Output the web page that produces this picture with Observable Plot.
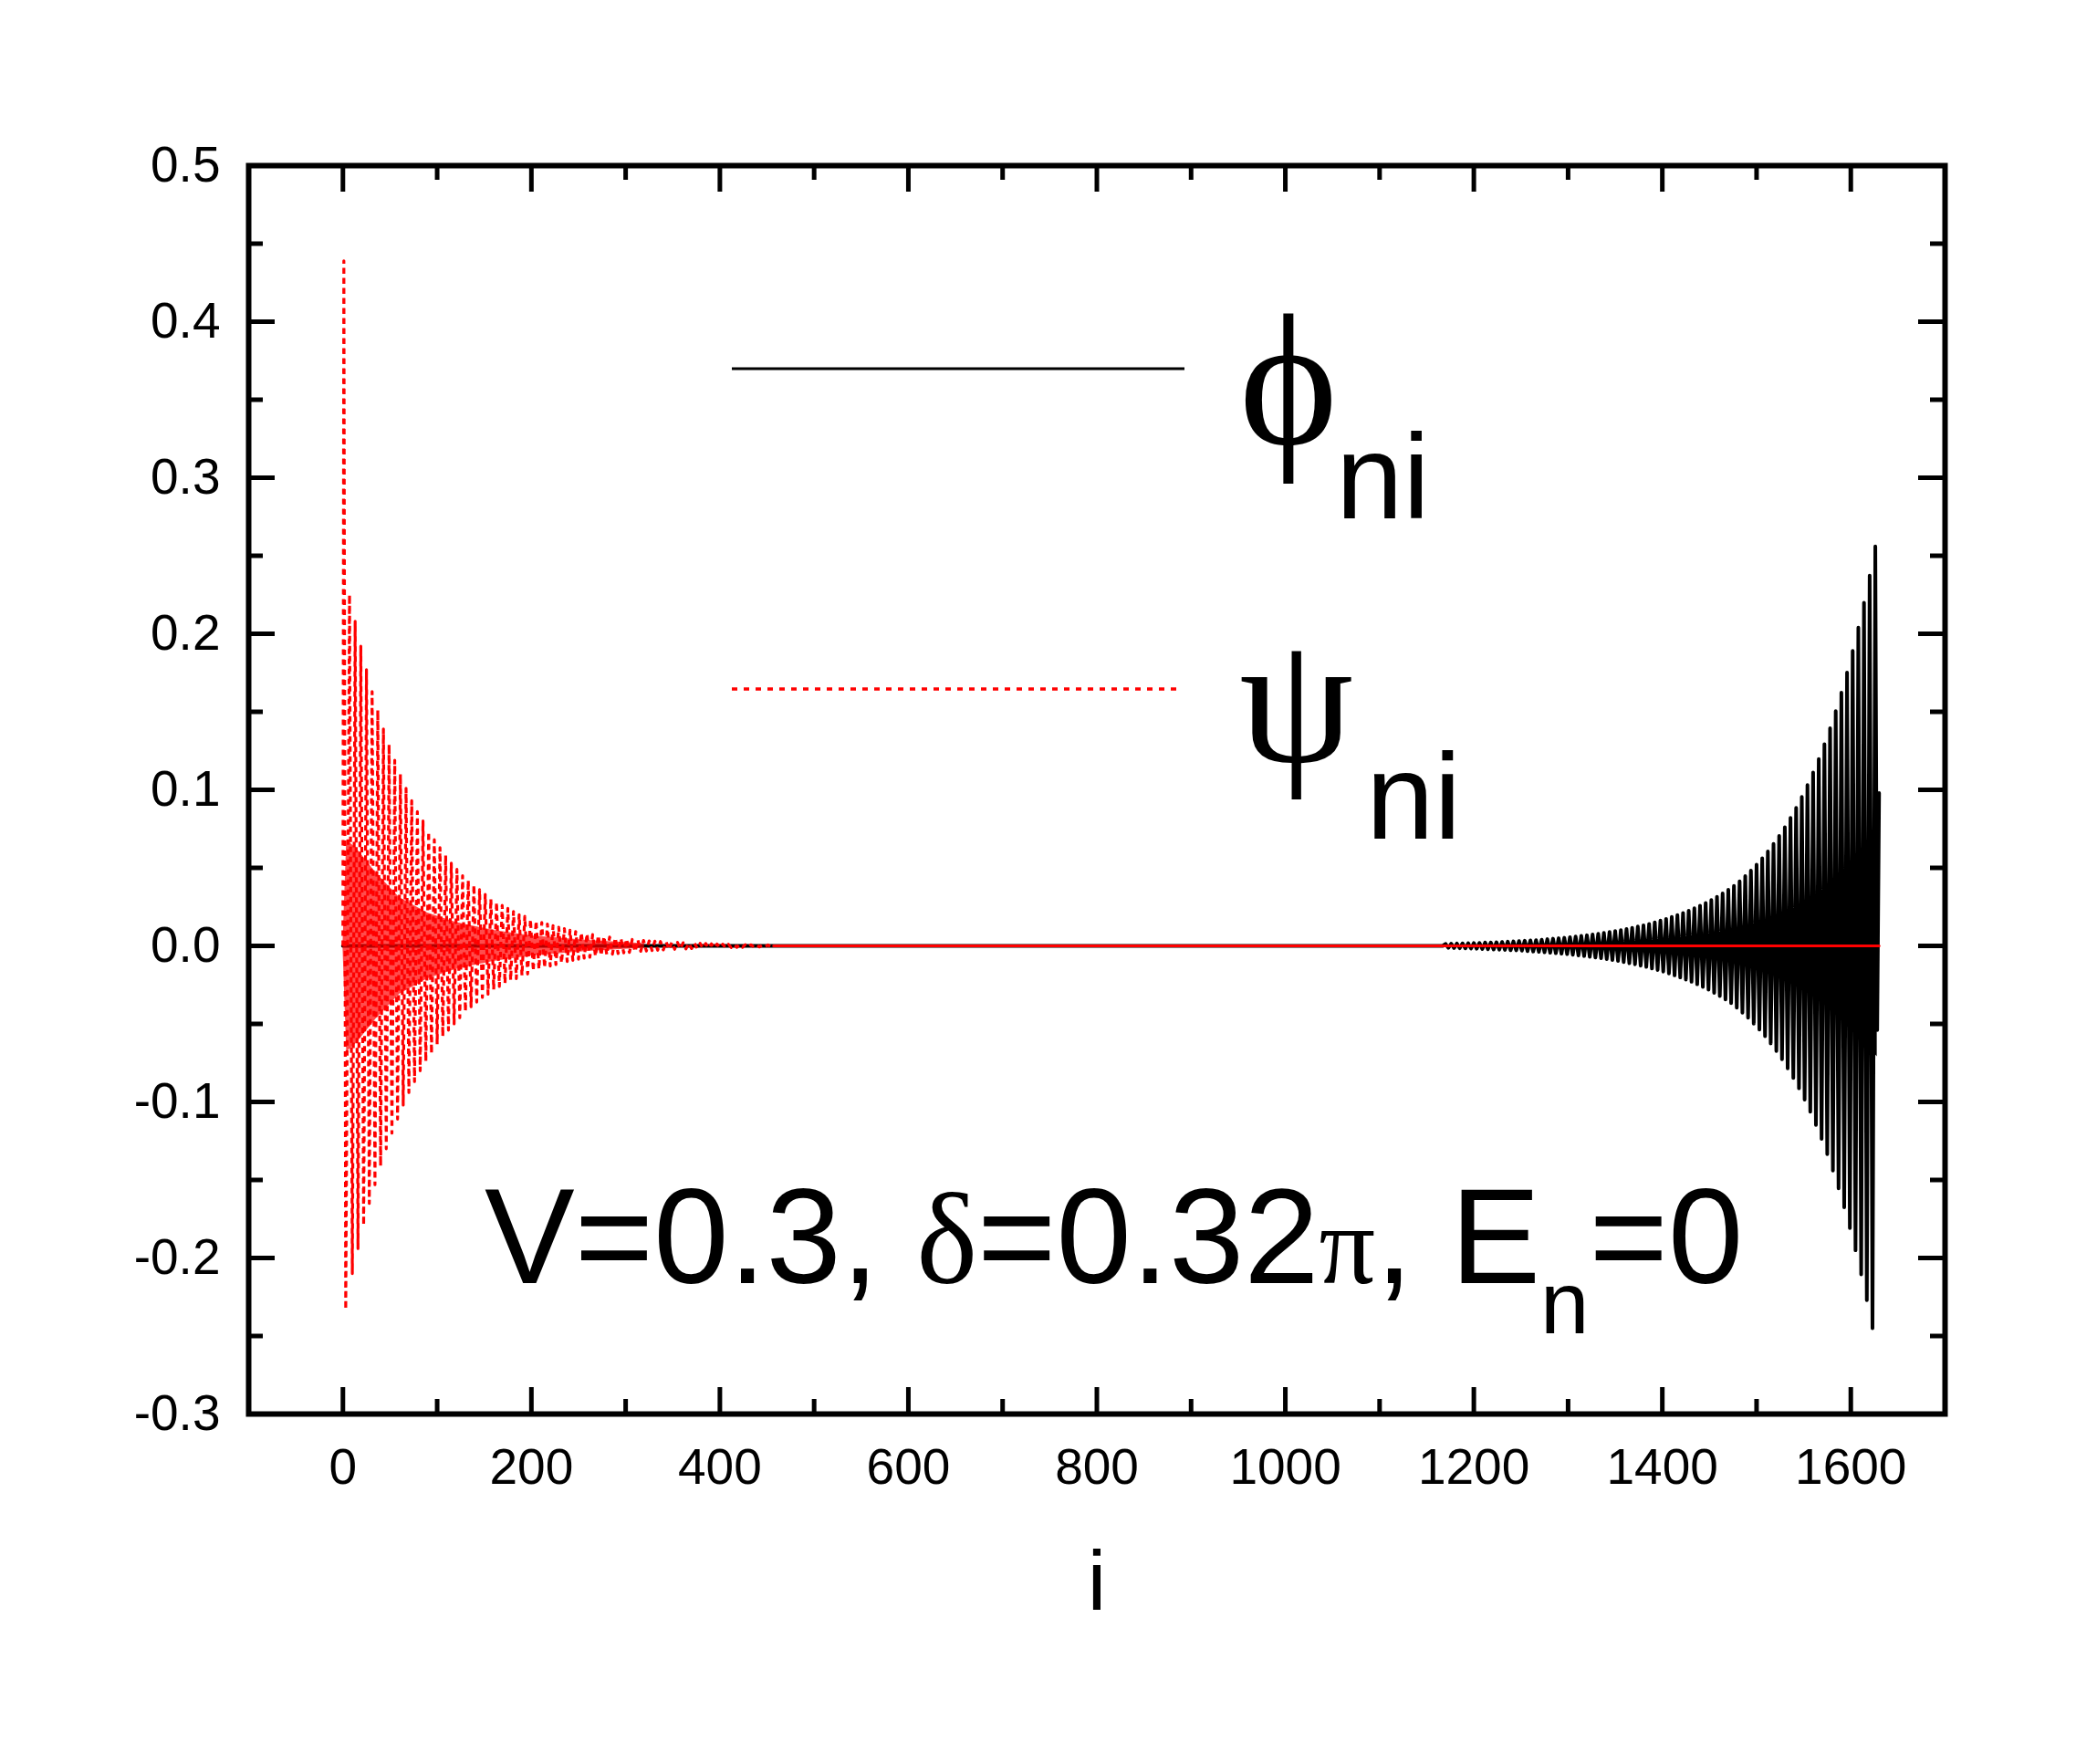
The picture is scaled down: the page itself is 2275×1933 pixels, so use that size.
<!DOCTYPE html>
<html>
<head>
<meta charset="utf-8">
<script src="https://cdn.jsdelivr.net/npm/d3@7"></script>
<script src="https://cdn.jsdelivr.net/npm/@observablehq/plot@0.6"></script>
<style>
html, body { margin: 0; padding: 0; background: #fff; }
#chart svg { display: block; }
</style>
</head>
<body>
<div id="chart"></div>
<script>
// ---------------- data ----------------
const xMajor = [0, 200, 400, 600, 800, 1000, 1200, 1400, 1600];
const xMinor = [100, 300, 500, 700, 900, 1100, 1300, 1500];
const yMajor = [-0.3, -0.2, -0.1, 0.0, 0.1, 0.2, 0.3, 0.4, 0.5];
const yMinor = [-0.25, -0.15, -0.05, 0.05, 0.15, 0.25, 0.35, 0.45];

// phi_ni (black, solid): flat start, then positive peaks and negative troughs
const phiFlat = [[0, 0], [1167, 0]];
const phiPeaks = [
 [1170,0.0013],[1176,0.0014],[1182,0.0015],[1188,0.0016],[1194,0.0017],[1200,0.0018],[1206,0.0019],[1212,0.0021],
 [1218,0.0022],[1224,0.0023],[1230,0.0025],[1236,0.0027],[1242,0.0029],[1248,0.0031],[1254,0.0033],[1260,0.0035],
 [1266,0.0037],[1272,0.0040],[1278,0.0043],[1284,0.0046],[1290,0.0049],[1296,0.0052],[1302,0.0056],[1308,0.0060],
 [1314,0.0064],[1320,0.0068],[1326,0.0073],[1332,0.0078],[1338,0.0083],[1344,0.0089],[1350,0.0095],[1356,0.0101],
 [1362,0.0108],[1368,0.0116],[1374,0.0124],[1380,0.0132],[1386,0.0141],[1392,0.0151],[1398,0.0162],[1404,0.0173],
 [1410,0.0185],[1416,0.0197],[1422,0.0211],[1428,0.0225],[1434,0.0241],[1440,0.0258],[1446,0.0275],[1452,0.0294],
 [1458,0.0315],[1464,0.0336],[1470,0.0359],[1476,0.0384],[1482,0.0414],[1488,0.0447],[1494,0.0482],[1500,0.0520],
 [1506,0.0561],[1512,0.0605],[1518,0.0653],[1524,0.0704],[1530,0.0760],[1536,0.0820],[1542,0.0885],[1548,0.0954],
 [1554,0.1030],[1560,0.1111],[1566,0.1198],[1572,0.1293],[1578,0.1395],[1584,0.1505],[1590,0.1623],[1596,0.1751],
 [1602,0.1890],[1608,0.2039],[1614,0.2199],[1620,0.2373],[1626,0.2560]
];
const phiTroughs = [
 [1173,-0.0013],[1179,-0.0014],[1185,-0.0015],[1191,-0.0016],[1197,-0.0017],[1203,-0.0018],[1209,-0.0020],[1215,-0.0021],
 [1221,-0.0023],[1227,-0.0024],[1233,-0.0026],[1239,-0.0028],[1245,-0.0029],[1251,-0.0031],[1257,-0.0034],[1263,-0.0036],
 [1269,-0.0038],[1275,-0.0041],[1281,-0.0044],[1287,-0.0047],[1293,-0.0050],[1299,-0.0053],[1305,-0.0057],[1311,-0.0061],
 [1317,-0.0065],[1323,-0.0070],[1329,-0.0074],[1335,-0.0079],[1341,-0.0085],[1347,-0.0091],[1353,-0.0097],[1359,-0.0104],
 [1365,-0.0111],[1371,-0.0118],[1377,-0.0127],[1383,-0.0135],[1389,-0.0145],[1395,-0.0155],[1401,-0.0165],[1407,-0.0177],
 [1413,-0.0189],[1419,-0.0202],[1425,-0.0216],[1431,-0.0230],[1437,-0.0246],[1443,-0.0263],[1449,-0.0281],[1455,-0.0301],
 [1461,-0.0321],[1467,-0.0343],[1473,-0.0367],[1479,-0.0396],[1485,-0.0428],[1491,-0.0461],[1497,-0.0498],[1503,-0.0537],
 [1509,-0.0579],[1515,-0.0625],[1521,-0.0674],[1527,-0.0727],[1533,-0.0785],[1539,-0.0847],[1545,-0.0913],[1551,-0.0985],
 [1557,-0.1063],[1563,-0.1147],[1569,-0.1237],[1575,-0.1335],[1581,-0.1440],[1587,-0.1554],[1593,-0.1676],[1599,-0.1808],
 [1605,-0.1951],[1611,-0.2105],[1617,-0.2271],[1623,-0.2450]
];
const phiEnd = [[1628, -0.054], [1630, 0.098]];
// dense inner band of phi (upper / lower edge)
const phiBandI  = [1250, 1350, 1420, 1470, 1510, 1550, 1580, 1600, 1615, 1628];
const phiBandHi = [0.0004, 0.0015, 0.004, 0.007, 0.014, 0.022, 0.035, 0.047, 0.058, 0.064];
const phiBandLo = [-0.0004, -0.0015, -0.004, -0.007, -0.014, -0.022, -0.034, -0.048, -0.062, -0.071];

// psi_ni (red, dotted): peaks and troughs decaying from the left edge
const psiStart = [[0, 0]];
const psiPeaks = [
 [1,0.439],[7,0.225],[13,0.208],[19,0.192],[25,0.177],[31,0.163],[37,0.151],[43,0.139],[49,0.129],[55,0.119],
 [61,0.110],[67,0.101],[73,0.093],[79,0.086],[85,0.080],[91,0.073],[97,0.068],[103,0.063],[109,0.058],[115,0.053],
 [121,0.049],[127,0.045],[133,0.042],[139,0.039],[145,0.036],[151,0.033],[157,0.030],[163,0.028],[169,0.026],[175,0.024],
 [181,0.022],[187,0.020],[193,0.019],[199,0.017],[205,0.016],[211,0.015],[217,0.014],[223,0.013],[229,0.012],[235,0.011],
 [241,0.010],[247,0.0092],[253,0.0085],[259,0.0078],[265,0.0072],[271,0.0067],[277,0.0061],[283,0.0057],[289,0.0052],
 [295,0.0048],[301,0.0045],[307,0.0041],[313,0.0038],[319,0.0035],[325,0.0032],[331,0.0030],[337,0.0028],[343,0.0025],
 [349,0.0023],[355,0.0022],[361,0.0020],[367,0.0018],[373,0.0017],[379,0.0016],[385,0.0015],[391,0.0013],[397,0.0012],
 [403,0.0011],[409,0.0010],[415,0.0009],[421,0.0009],[427,0.0008],[433,0.0007],[439,0.0007],[445,0.0006],[451,0.0006]
];
const psiTroughs = [
 [3,-0.233],[10,-0.210],[16,-0.194],[22,-0.179],[28,-0.165],[34,-0.153],[40,-0.141],[46,-0.130],[52,-0.120],[58,-0.111],
 [64,-0.102],[70,-0.094],[76,-0.087],[82,-0.080],[88,-0.074],[94,-0.069],[100,-0.063],[106,-0.058],[112,-0.054],[118,-0.050],
 [124,-0.046],[130,-0.042],[136,-0.039],[142,-0.036],[148,-0.033],[154,-0.031],[160,-0.028],[166,-0.026],[172,-0.024],[178,-0.022],
 [184,-0.021],[190,-0.019],[196,-0.018],[202,-0.016],[208,-0.015],[214,-0.014],[220,-0.013],[226,-0.012],[232,-0.011],[238,-0.010],
 [244,-0.0093],[250,-0.0085],[256,-0.0079],[262,-0.0073],[268,-0.0067],[274,-0.0062],[280,-0.0057],[286,-0.0053],[292,-0.0049],
 [298,-0.0045],[304,-0.0042],[310,-0.0038],[316,-0.0035],[322,-0.0033],[328,-0.0030],[334,-0.0028],[340,-0.0026],[346,-0.0024],
 [352,-0.0022],[358,-0.0020],[364,-0.0019],[370,-0.0017],[376,-0.0016],[382,-0.0015],[388,-0.0014],[394,-0.0013],[400,-0.0012],
 [406,-0.0011],[412,-0.0010],[418,-0.0009],[424,-0.0009],[430,-0.0008],[436,-0.0007],[442,-0.0007],[448,-0.0006],[454,-0.0006]
];
const psiTail = [[457, 0], [1630, 0]];
// dense inner band of psi
const psiBandI  = [0, 4, 15, 35, 60, 90, 120, 160, 200, 260, 320];
const psiBandHi = [0, 0.068, 0.062, 0.047, 0.031, 0.021, 0.015, 0.010, 0.0065, 0.0035, 0.0015];
const psiBandLo = [0, -0.068, -0.062, -0.047, -0.031, -0.021, -0.015, -0.010, -0.0065, -0.0035, -0.0015];

// ---------------- layout ----------------
const W = 2275, H = 1933;
const mL = 272, mR = 144, mT = 181, mB = 384;
const xDomain = [-100, 1700], yDomain = [-0.3, 0.5];
const sans = "'Liberation Sans', Arial, Helvetica, sans-serif";
const serif = "'Liberation Serif', 'DejaVu Serif', 'Times New Roman', serif";

const toRows = (pairs) => pairs.map(([i, v]) => ({i, v}));
const byI = (a, b) => a.i - b.i;
const phi = toRows([...phiFlat, ...phiPeaks, ...phiTroughs, ...phiEnd]).sort(byI);
const psi = toRows([...psiStart, ...psiPeaks, ...psiTroughs]).sort(byI);
const psiFlat = toRows(psiTail);
const phiBand = phiBandI.map((i, k) => ({i, hi: phiBandHi[k], lo: phiBandLo[k]}));
const psiBand = psiBandI.map((i, k) => ({i, hi: psiBandHi[k], lo: psiBandLo[k]}));

// tick lengths in pixels converted to data units
const ux = (xDomain[1] - xDomain[0]) / (W - mL - mR);
const uy = (yDomain[1] - yDomain[0]) / (H - mT - mB);
const majLen = 29, minLen = 16, tickW = 5;

function xTicks(values, len) {
  return [
    Plot.ruleX(values, {x: d => d, y1: () => yDomain[0], y2: () => yDomain[0] + len * uy, strokeWidth: tickW}),
    Plot.ruleX(values, {x: d => d, y1: () => yDomain[1], y2: () => yDomain[1] - len * uy, strokeWidth: tickW})
  ];
}
function yTicks(values, len) {
  return [
    Plot.ruleY(values, {y: d => d, x1: () => xDomain[0], x2: () => xDomain[0] + len * ux, strokeWidth: tickW}),
    Plot.ruleY(values, {y: d => d, x1: () => xDomain[1], x2: () => xDomain[1] - len * ux, strokeWidth: tickW})
  ];
}

const plot = Plot.plot({
  width: W,
  height: H,
  marginLeft: mL,
  marginRight: mR,
  marginTop: mT,
  marginBottom: mB,
  x: {domain: xDomain},
  y: {domain: yDomain},
  style: {fontFamily: sans, background: "white", color: "black"},
  marks: [
    Plot.areaY(phiBand, {x: "i", y1: "lo", y2: "hi", fill: "black"}),
    Plot.line(phi, {x: "i", y: "v", stroke: "black", strokeWidth: 4, strokeLinejoin: "round"}),
    Plot.areaY(psiBand, {x: "i", y1: "lo", y2: "hi", fill: "#ff0000", fillOpacity: 0.7}),
    Plot.line(psi, {x: "i", y: "v", stroke: "#ff0000", strokeWidth: 3.2, strokeDasharray: "6,5", strokeLinecap: "butt", strokeLinejoin: "round"}),
    Plot.line(psiFlat, {x: "i", y: "v", stroke: "#ff0000", strokeWidth: 3}),
    ...xTicks(xMajor, majLen), ...xTicks(xMinor, minLen),
    ...yTicks(yMajor, majLen), ...yTicks(yMinor, minLen),
    Plot.frame({stroke: "black", strokeWidth: 6}),
    Plot.axisX(xMajor, {anchor: "bottom", tickSize: 0, tickPadding: 37, fontSize: 55, tickFormat: d => String(d), label: null}),
    Plot.axisY(yMajor, {anchor: "left", tickSize: 0, tickPadding: 31, fontSize: 55, tickFormat: d => d.toFixed(1), label: null}),
    Plot.text(["i"], {text: d => d, frameAnchor: "bottom", dy: 214, lineAnchor: "bottom", fontSize: 92})
  ]
});

document.getElementById("chart").appendChild(plot);

// ---------------- legend and annotation ----------------
const svg = d3.select(plot);
const g = svg.append("g").attr("fill", "black").attr("font-family", sans).attr("text-anchor", "start");

// legend samples
g.append("line").attr("x1", 802).attr("x2", 1298).attr("y1", 404).attr("y2", 404)
  .attr("stroke", "black").attr("stroke-width", 3);
g.append("line").attr("x1", 802).attr("x2", 1293).attr("y1", 755).attr("y2", 755)
  .attr("stroke", "#ff0000").attr("stroke-width", 3.5).attr("stroke-dasharray", "6,7");

g.append("text").attr("x", 1358).attr("y", 486).attr("font-family", serif).attr("font-size", 205).text("\u03D5");
g.append("text").attr("x", 1464).attr("y", 568).attr("font-size", 132).text("ni");
g.append("text").attr("x", 1358).attr("y", 834).attr("font-family", serif).attr("font-size", 200).text("\u03C8");
g.append("text").attr("x", 1497).attr("y", 919).attr("font-size", 134).text("ni");

// annotation
const ann = g.append("text").attr("x", 531).attr("y", 1406).attr("font-size", 148);
ann.append("tspan").text("V=0.3, ");
ann.append("tspan").attr("font-family", serif).attr("font-size", 142).text("\u03B4");
ann.append("tspan").text("=0.32");
ann.append("tspan").attr("font-family", serif).attr("font-size", 122).text("\u03C0");
ann.append("tspan").text(", E");
ann.append("tspan").attr("font-size", 96).attr("dy", 55).text("n");
ann.append("tspan").attr("dy", -55).text("=0");
</script>
</body>
</html>
